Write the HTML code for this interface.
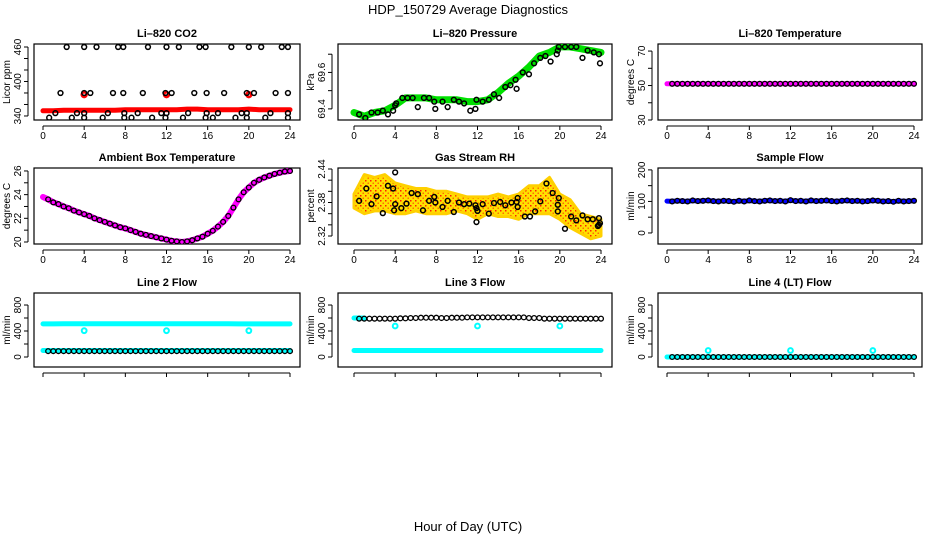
<!DOCTYPE html>
<html><head><meta charset="utf-8">
<style>
html,body{margin:0;padding:0;background:#fff;}
svg text{font-family:"Liberation Sans",Arial,sans-serif;}
</style></head>
<body>
<svg id="chart" width="936" height="540" viewBox="0 0 936 540" xmlns="http://www.w3.org/2000/svg">
<defs>
<pattern id="rhpat" width="5" height="5" patternUnits="userSpaceOnUse">
<rect width="5" height="5" fill="#ffe000"/>
<rect x="0" y="0" width="1.5" height="1.5" fill="#ff2000"/>
<rect x="2.5" y="2.5" width="1.5" height="1.5" fill="#ff7000"/>
</pattern>
</defs>
<text x="468" y="14" font-size="13" text-anchor="middle">HDP_150729  Average Diagnostics</text>
<text x="468" y="531" font-size="13" text-anchor="middle">Hour of Day (UTC)</text>
</svg>
<script>
// ---- data ----
const xTicks = [0,4,8,12,16,20,24];
const hourly = [0,1,2,3,4,5,6,7,8,9,10,11,12,13,14,15,16,17,18,19,20,21,22,23,24];

const co2Band = [349,349,350,350,350,350,350,350,351,351,351,351,351,351,352,352,351,351,351,351,352,351,351,351,351];
const co2BlackHours = [2.3,4.0,5.2,7.3,7.8,10.2,12.0,13.2,15.2,15.8,18.3,20.0,21.2,23.2,23.8,
 1.7,4.0,4.6,6.8,7.8,9.7,11.9,12.5,14.7,15.9,17.6,19.8,20.5,22.6,23.8,
 1.2,3.3,4.0,6.3,7.9,9.2,11.5,12.0,14.1,15.9,17.0,19.3,19.8,22.1,23.8,
 0.6,2.8,4.0,5.8,7.9,8.6,10.6,11.9,13.6,15.8,16.5,18.7,19.8,21.6,23.8];
const co2BlackVals = [460,460,460,460,460,460,460,460,460,460,460,460,460,460,460,
 380,380,380,380,380,380,380,380,380,380,380,380,380,380,380,
 345,345,345,345,345,345,345,345,345,345,345,345,345,345,345,
 337,337,337,337,337,337,337,337,337,337,337,337,337,337,337];
const co2RedOutHours = [4.0,12.0,20.0];
const co2RedOutVals = [377,377,377];

const presBand = [69.38,69.36,69.38,69.39,69.42,69.46,69.46,69.46,69.45,69.45,69.45,69.44,69.44,69.45,69.49,69.54,69.58,69.63,69.69,69.71,69.74,69.74,69.73,69.72,69.71];
const presBlackHours = [0.5,1.1,1.7,2.3,2.8,3.3,3.8,4.0,4.1,4.7,5.2,5.7,6.2,6.8,7.3,7.8,7.9,8.6,9.1,9.7,10.2,10.7,11.3,11.8,11.9,12.5,13.1,13.6,14.1,14.7,15.2,15.7,15.8,16.4,17.0,17.5,18.1,18.6,19.1,19.7,19.8,19.9,20.5,21.1,21.6,22.2,22.7,23.3,23.8,23.9];
const presBlackVals = [69.37,69.35,69.38,69.38,69.39,69.37,69.39,69.42,69.43,69.46,69.46,69.46,69.41,69.46,69.46,69.44,69.40,69.44,69.41,69.45,69.44,69.43,69.39,69.40,69.45,69.44,69.45,69.48,69.46,69.52,69.53,69.56,69.51,69.60,69.59,69.65,69.68,69.69,69.66,69.70,69.72,69.74,69.74,69.74,69.74,69.68,69.72,69.71,69.70,69.65];

const tempVals = [51,51,51,51,51,51,51,51,51,51,51,51,51,51,51,51,51,51,51,51,51,51,51,51,51,51,51,51,51,51,51,51,51,51,51,51,51,51,51,51,51,51,51,51,51,51,51,51,51];

const ambVals = [23.8,23.6,23.35,23.2,23.0,22.85,22.65,22.5,22.35,22.2,22.0,21.85,21.7,21.55,21.4,21.25,21.15,21.0,20.85,20.7,20.6,20.5,20.4,20.3,20.2,20.1,20.05,20.0,20.05,20.15,20.3,20.45,20.7,20.95,21.3,21.7,22.2,22.9,23.6,24.2,24.6,25.0,25.25,25.45,25.6,25.75,25.85,25.95,26.0];

const rhUpper = [2.395,2.43,2.425,2.43,2.415,2.41,2.405,2.405,2.40,2.40,2.395,2.39,2.39,2.39,2.395,2.39,2.395,2.41,2.41,2.425,2.395,2.385,2.36,2.355,2.35];
const rhLower = [2.37,2.36,2.365,2.365,2.36,2.36,2.365,2.36,2.36,2.36,2.365,2.36,2.35,2.36,2.355,2.355,2.35,2.36,2.36,2.36,2.35,2.335,2.325,2.315,2.32];
const rhBlackHours = [0.5,1.2,1.7,2.2,2.8,3.3,3.8,4.0,4.0,3.9,4.6,5.1,5.6,6.2,6.7,7.3,7.8,7.9,8.6,9.1,9.7,10.2,10.7,11.2,11.8,11.9,12.0,11.9,12.5,13.1,13.6,14.2,14.7,15.3,15.8,15.9,15.9,16.6,17.1,17.6,18.1,18.7,19.3,19.8,19.8,19.9,20.5,21.1,21.6,22.2,22.7,23.2,23.8,23.8,23.9,23.7];
const rhBlackVals = [2.383,2.405,2.377,2.391,2.361,2.41,2.405,2.434,2.377,2.366,2.370,2.378,2.397,2.395,2.366,2.383,2.39,2.38,2.372,2.383,2.363,2.380,2.377,2.378,2.375,2.370,2.365,2.345,2.377,2.360,2.379,2.381,2.375,2.380,2.381,2.388,2.372,2.355,2.355,2.364,2.382,2.414,2.397,2.364,2.376,2.388,2.333,2.355,2.348,2.357,2.350,2.350,2.352,2.340,2.343,2.338];

const sampleVals = [101,100,102,101,100,103,101,102,103,101,100,102,101,99,102,100,103,101,100,102,103,101,102,100,104,101,102,100,103,101,102,103,101,100,102,103,101,102,100,101,103,102,100,101,99,102,100,101,102];

const l2Upper = [510,510,512,512,512,512,512,512,512,512,512,512,512,512,512,512,512,512,512,510,510,510,510,510,510];
const l2Lower = [100,100,100,100,100,100,100,100,100,100,100,100,100,100,100,100,100,100,100,100,100,100,100,100,100];
const l2Black = [90,90,90,90,90,90,90,90,90,90,90,90,90,90,90,90,90,90,90,90,90,90,90,90,90,90,90,90,90,90,90,90,90,90,90,90,90,90,90,90,90,90,90,90,90,90,90,90,90];
const l2OutHours = [4,12,20];
const l2OutVals = [405,405,405];

const l3Black = [590,590,590,590,590,590,590,590,590,595,595,600,600,605,605,605,605,600,600,605,605,605,610,610,610,610,610,610,610,610,610,610,610,610,600,600,600,590,590,590,590,590,590,590,590,590,590,590,590];
const l3Lower = [100,100,100,100,100,100,100,100,100,100,100,100,100,100,100,100,100,100,100,100,100,100,100,100,100];
const l3OutHours = [4,12,20];
const l3OutVals = [477,477,477];

const l4Black = [0,0,0,0,0,0,0,0,0,0,0,0,0,0,0,0,0,0,0,0,0,0,0,0,0,0,0,0,0,0,0,0,0,0,0,0,0,0,0,0,0,0,0,0,0,0,0,0,0];
const l4OutHours = [4,12,20];
const l4OutVals = [100,100,100];

// ---- layout ----
const svg = document.getElementById('chart');
const NS = 'http://www.w3.org/2000/svg';
const cols = [{l:34,r:300,x0:43,x24:290},{l:338,r:612,x0:354,x24:601},{l:658,r:922,x0:667,x24:914}];
const rows = [{t:44,b:120},{t:168,b:244},{t:293,b:367}];

function mk(tag, attrs, parent){
  const e = document.createElementNS(NS, tag);
  for (const k in attrs) e.setAttribute(k, attrs[k]);
  (parent||svg).appendChild(e);
  return e;
}
function halfHours(){ const a=[]; for(let i=0;i<=48;i++) a.push(i/2); return a; }
const H49 = halfHours();

function panel(ci, ri, name, title, ylab, ymin, ymax, yTicks, yLabels){
  const c = cols[ci], r = rows[ri];
  const g = mk('g', {});
  
  
  const X = h => c.x0 + (c.x24 - c.x0) * h / 24;
  const Y = v => r.b - (r.b - r.t) * (v - ymin) / (ymax - ymin);
  const t = mk('text', {x:(c.l+c.r)/2, y:r.t-7, 'font-size':11, 'font-weight':'bold', 'text-anchor':'middle'}, g);
  t.textContent = title;
  
  
  const box = mk('rect', {x:c.l, y:r.t, width:c.r-c.l, height:r.b-r.t, fill:'none', stroke:'#000', 'stroke-width':1.2}, g);
  
  
  const xa = mk('g', {}, g);
  
  
  mk('line', {x1:X(0), x2:X(24), y1:r.b+6, y2:r.b+6, stroke:'#000'}, xa);
  xTicks.forEach(v => {
    mk('line', {x1:X(v), x2:X(v), y1:r.b+6, y2:r.b+10, stroke:'#000'}, xa);
    if (ri < 2) {
      const tl = mk('text', {x:X(v), y:r.b+19, 'font-size':10, 'text-anchor':'middle'}, xa);
      tl.textContent = v;
      
      
    }
  });
  const ya = mk('g', {}, g);
  
  
  const yt = yTicks.filter(v => v >= ymin && v <= ymax);
  mk('line', {x1:c.l-6, x2:c.l-6, y1:Y(yt[0]), y2:Y(yt[yt.length-1]), stroke:'#000'}, ya);
  yt.forEach(v => mk('line', {x1:c.l-10, x2:c.l-6, y1:Y(v), y2:Y(v), stroke:'#000'}, ya));
  yLabels.forEach(v => {
    const tl = mk('text', {x:0, y:0, 'font-size':10, 'text-anchor':'middle', transform:`translate(${c.l-13},${Y(v)}) rotate(-90)`}, ya);
    tl.textContent = v;
    
    
  });
  const yl = mk('text', {x:0, y:0, 'font-size':10, 'text-anchor':'middle', transform:`translate(${c.l-24},${(r.t+r.b)/2}) rotate(-90)`}, g);
  yl.textContent = ylab;
  
  
  const clip = 'clip' + ci + ri;
  const cp = mk('clipPath', {id:clip}, g);
  mk('rect', {x:c.l, y:r.t, width:c.r-c.l, height:r.b-r.t}, cp);
  const pg = mk('g', {'clip-path':`url(#${clip})`}, g);
  
  
  return {X, Y, pg};
}
function band(p, hours, vals, color, w, nm){
  const pts = hours.map((h,i) => p.X(h).toFixed(1) + ',' + p.Y(vals[i]).toFixed(1)).join(' ');
  const e = mk('polyline', {points:pts, fill:'none', stroke:color, 'stroke-width':w, 'stroke-linejoin':'round', 'stroke-linecap':'round'}, p.pg);
  
  
}
function pts(p, hours, vals, color, nm, sw){
  const g = mk('g', {}, p.pg);
  
  
  hours.forEach((h,i) => {
    const e = mk('circle', {cx:p.X(h), cy:p.Y(vals[i]), r:2.4, fill:'none', stroke:color, 'stroke-width':sw||1.5}, g);
    
    
  });
}

// CO2
let p = panel(0,0,'co2','Li\u2013820 CO2','Licor ppm',333,465.2,[340,360,380,400,420,440,460],[340,400,460]);
band(p, hourly, co2Band, '#ff0000', 5, 'co2-red-band');
pts(p, co2RedOutHours, co2RedOutVals, '#ff0000', 'co2-red-outliers', 2.5);
pts(p, co2BlackHours, co2BlackVals, '#000', 'co2-black-points');

// Pressure
p = panel(1,0,'pressure','Li\u2013820 Pressure','kPa',69.339,69.756,[69.4,69.5,69.6,69.7],[69.4,69.6]);
band(p, hourly, presBand, '#00e000', 7, 'pressure-green-band');
pts(p, presBlackHours, presBlackVals, '#000', 'pressure-black-points');

// Temperature
p = panel(2,0,'li820-temp','Li\u2013820 Temperature','degrees C',30,74.1,[30,40,50,60,70],[30,50,70]);
band(p, H49, tempVals, '#ff00ff', 5, 'temp-magenta-band');
pts(p, H49.slice(1), tempVals.slice(1), '#000', 'temp-black-points', 1.3);

// Ambient
p = panel(0,1,'ambient','Ambient Box Temperature','degrees C',19.83,26.25,[20,21,22,23,24,25,26],[20,22,24,26]);
band(p, H49, ambVals, '#ff00ff', 6, 'ambient-magenta-band');
pts(p, H49.slice(1), ambVals.slice(1), '#000', 'ambient-black-points', 1.3);

// RH
p = panel(1,1,'rh','Gas Stream RH','percent',2.3057,2.4418,[2.32,2.34,2.36,2.38,2.40,2.42,2.44],[2.32,2.38,2.44]);
{
  const up = hourly.map((h,i)=>p.X(h).toFixed(1)+','+p.Y(rhUpper[i]).toFixed(1));
  const lo = hourly.slice().reverse().map(h=>p.X(h).toFixed(1)+','+p.Y(rhLower[h]).toFixed(1));
  const poly = mk('polygon', {points:up.concat(lo).join(' '), fill:'url(#rhpat)', stroke:'#ffd000', 'stroke-width':3, 'stroke-linejoin':'round'}, p.pg);
  
  
}
pts(p, rhBlackHours, rhBlackVals, '#000', 'rh-black-points');

// Sample flow
p = panel(2,1,'sample-flow','Sample Flow','ml/min',-35,206,[0,50,100,150,200],[0,100,200]);
band(p, H49, sampleVals, '#0000ff', 5, 'sample-blue-band');
pts(p, H49.slice(1), sampleVals.slice(1), '#000', 'sample-black-points', 1.3);

// Line 2
p = panel(0,2,'line2-flow','Line 2 Flow','ml/min',-154,985,[0,200,400,600,800],[0,400,800]);
band(p, hourly, l2Upper, '#00ffff', 5, 'line2-cyan-upper-band');
band(p, hourly, l2Lower, '#00ffff', 5, 'line2-cyan-lower-band');
pts(p, l2OutHours, l2OutVals, '#00ffff', 'line2-cyan-outliers', 2);
pts(p, H49.slice(1), l2Black.slice(1), '#000', 'line2-black-points', 1.3);

// Line 3
p = panel(1,2,'line3-flow','Line 3 Flow','ml/min',-154,985,[0,200,400,600,800],[0,400,800]);
band(p, hourly, l3Lower, '#00ffff', 5, 'line3-cyan-lower-band');
band(p, hourly.slice(0,2), [600,600], '#00ffff', 5, 'line3-cyan-start');
pts(p, l3OutHours, l3OutVals, '#00ffff', 'line3-cyan-outliers', 2);
pts(p, H49.slice(1), l3Black.slice(1), '#000', 'line3-black-points', 1.3);

// Line 4
p = panel(2,2,'line4-flow','Line 4 (LT) Flow','ml/min',-154,985,[0,200,400,600,800],[0,400,800]);
band(p, H49, l4Black, '#00ffff', 5, 'line4-cyan-band');
pts(p, l4OutHours, l4OutVals, '#00ffff', 'line4-cyan-outliers', 2);
pts(p, H49.slice(1), l4Black.slice(1), '#000', 'line4-black-points', 1.3);
</script>
</body></html>
